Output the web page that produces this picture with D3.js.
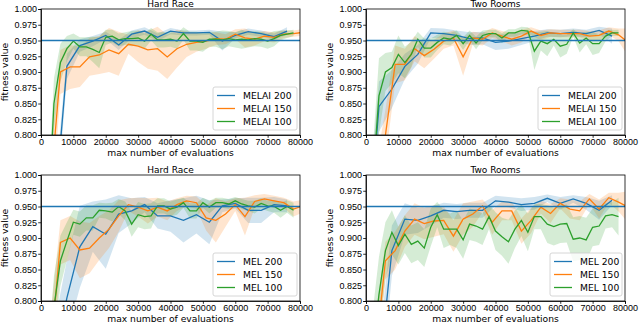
<!DOCTYPE html>
<html>
<head>
<meta charset="utf-8">
<script src="https://cdn.jsdelivr.net/npm/d3@7"></script>
<style>
  body { margin: 0; background: #fff; }
  svg { display: block; font-family: "DejaVu Sans", sans-serif; }
  .axis text { font-size: 9px; fill: #000; }
  .axis path, .axis line { stroke: #000; stroke-width: 0.8; }
</style>
</head>
<body>
<div id="container"></div>
<script>
// evaluation counts, one list per population size
const x200 = [0, 4000, 8000, 12000, 16000, 20000, 24000, 28000, 32000, 36000, 40000, 44000, 48000, 52000, 56000, 60000, 64000, 68000, 72000, 76000]
const x150 = [0, 3000, 6000, 9000, 12000, 15000, 18000, 21000, 24000, 27000, 30000, 33000, 36000, 39000, 42000, 45000, 48000, 51000, 54000, 57000, 60000, 63000, 66000, 69000, 72000, 75000, 78000, 81000]
const x100 = [0, 2000, 4000, 6000, 8000, 10000, 12000, 14000, 16000, 18000, 20000, 22000, 24000, 26000, 28000, 30000, 32000, 34000, 36000, 38000, 40000, 42000, 44000, 46000, 48000, 50000, 52000, 54000, 56000, 58000, 60000, 62000, 64000, 66000, 68000, 70000, 72000, 74000, 76000, 78000]

// MELAI - Hard Race
const melaiHard200 = [0.5, 0.667, 0.909, 0.942, 0.949, 0.958, 0.943, 0.960, 0.965, 0.955, 0.965, 0.962, 0.962, 0.963, 0.949, 0.958, 0.964, 0.961, 0.956, 0.965]
const melaiHard200Sd = [0.05, 0.03, 0.02, 0.01, 0.008, 0.006, 0.008, 0.006, 0.006, 0.006, 0.005, 0.004, 0.004, 0.004, 0.015, 0.005, 0.005, 0.005, 0.005, 0.006]
const melaiHard150 = [0.5, 0.72, 0.90, 0.908, 0.908, 0.924, 0.927, 0.935, 0.929, 0.944, 0.941, 0.935, 0.937, 0.924, 0.937, 0.944, 0.947, 0.949, 0.953, 0.952, 0.960, 0.954, 0.952, 0.957, 0.955, 0.960, 0.961, 0.963]
const melaiHard150Sd = [0.05, 0.06, 0.035, 0.035, 0.032, 0.03, 0.03, 0.035, 0.035, 0.015, 0.025, 0.03, 0.035, 0.035, 0.03, 0.02, 0.015, 0.012, 0.01, 0.008, 0.008, 0.015, 0.01, 0.008, 0.008, 0.006, 0.005, 0.005]
const melaiHard100 = [0.5, 0.65, 0.85, 0.915, 0.937, 0.949, 0.94, 0.94, 0.936, 0.931, 0.955, 0.957, 0.951, 0.953, 0.953, 0.954, 0.949, 0.96, 0.951, 0.951, 0.952, 0.949, 0.961, 0.949, 0.949, 0.947, 0.952, 0.952, 0.951, 0.953, 0.951, 0.952, 0.951, 0.953, 0.952, 0.949, 0.953, 0.958, 0.96, 0.962]
const melaiHard100Sd = [0.05, 0.04, 0.04, 0.03, 0.02, 0.012, 0.015, 0.015, 0.02, 0.025, 0.012, 0.01, 0.01, 0.01, 0.012, 0.012, 0.012, 0.01, 0.012, 0.012, 0.012, 0.012, 0.01, 0.015, 0.015, 0.015, 0.012, 0.012, 0.015, 0.012, 0.012, 0.015, 0.012, 0.012, 0.012, 0.012, 0.012, 0.008, 0.006, 0.005]

// MELAI - Two Rooms
const melaiRooms200 = [0.59, 0.845, 0.873, 0.909, 0.928, 0.962, 0.961, 0.958, 0.953, 0.954, 0.947, 0.949, 0.953, 0.957, 0.962, 0.961, 0.963, 0.961, 0.966, 0.957]
const melaiRooms200Sd = [0.05, 0.04, 0.03, 0.02, 0.015, 0.008, 0.008, 0.008, 0.01, 0.01, 0.012, 0.012, 0.01, 0.008, 0.006, 0.006, 0.006, 0.006, 0.006, 0.012]
const melaiRooms150 = [0.5, 0.7, 0.80, 0.912, 0.912, 0.937, 0.926, 0.936, 0.949, 0.954, 0.924, 0.954, 0.952, 0.962, 0.957, 0.952, 0.957, 0.965, 0.958, 0.962, 0.961, 0.961, 0.961, 0.957, 0.958, 0.965, 0.959, 0.947]
const melaiRooms150Sd = [0.05, 0.05, 0.04, 0.03, 0.025, 0.02, 0.02, 0.015, 0.012, 0.012, 0.03, 0.01, 0.01, 0.008, 0.008, 0.01, 0.01, 0.006, 0.008, 0.006, 0.006, 0.006, 0.006, 0.008, 0.008, 0.006, 0.01, 0.022]
const melaiRooms100 = [0.55, 0.72, 0.862, 0.90, 0.907, 0.928, 0.915, 0.928, 0.952, 0.938, 0.938, 0.947, 0.954, 0.952, 0.958, 0.945, 0.958, 0.946, 0.958, 0.961, 0.961, 0.954, 0.962, 0.962, 0.966, 0.965, 0.933, 0.949, 0.945, 0.952, 0.941, 0.944, 0.962, 0.946, 0.954, 0.945, 0.945, 0.957, 0.962, 0.962]
const melaiRooms100Sd = [0.05, 0.05, 0.06, 0.03, 0.025, 0.03, 0.025, 0.02, 0.012, 0.015, 0.015, 0.012, 0.01, 0.01, 0.008, 0.01, 0.008, 0.01, 0.008, 0.006, 0.006, 0.008, 0.006, 0.006, 0.006, 0.006, 0.03, 0.015, 0.02, 0.01, 0.018, 0.015, 0.006, 0.015, 0.01, 0.018, 0.015, 0.008, 0.005, 0.005]

// MEL - Hard Race
const melHard200 = [0.5, 0.7, 0.805, 0.886, 0.918, 0.906, 0.938, 0.943, 0.953, 0.935, 0.935, 0.928, 0.937, 0.925, 0.951, 0.955, 0.944, 0.944, 0.953, 0.951]
const melHard200Sd = [0.05, 0.06, 0.06, 0.065, 0.04, 0.055, 0.03, 0.02, 0.012, 0.02, 0.025, 0.035, 0.03, 0.035, 0.01, 0.008, 0.02, 0.02, 0.012, 0.01]
const melHard150 = [0.5, 0.72, 0.893, 0.90, 0.881, 0.884, 0.90, 0.914, 0.935, 0.953, 0.949, 0.943, 0.949, 0.943, 0.953, 0.959, 0.956, 0.932, 0.928, 0.938, 0.953, 0.934, 0.958, 0.962, 0.959, 0.956, 0.946, 0.951]
const melHard150Sd = [0.05, 0.06, 0.035, 0.035, 0.045, 0.04, 0.035, 0.03, 0.025, 0.01, 0.015, 0.02, 0.015, 0.015, 0.01, 0.008, 0.01, 0.02, 0.035, 0.02, 0.01, 0.03, 0.01, 0.008, 0.008, 0.008, 0.012, 0.01]
const melHard100 = [0.5, 0.65, 0.79, 0.864, 0.895, 0.925, 0.922, 0.932, 0.932, 0.944, 0.943, 0.941, 0.95, 0.943, 0.922, 0.937, 0.934, 0.935, 0.951, 0.951, 0.946, 0.949, 0.956, 0.943, 0.943, 0.956, 0.949, 0.956, 0.956, 0.954, 0.959, 0.954, 0.951, 0.949, 0.955, 0.951, 0.95, 0.944, 0.95, 0.944]
const melHard100Sd = [0.05, 0.06, 0.05, 0.04, 0.03, 0.02, 0.02, 0.02, 0.02, 0.012, 0.012, 0.015, 0.012, 0.015, 0.02, 0.02, 0.02, 0.02, 0.012, 0.012, 0.012, 0.012, 0.008, 0.012, 0.012, 0.008, 0.01, 0.008, 0.008, 0.008, 0.006, 0.008, 0.008, 0.01, 0.008, 0.008, 0.01, 0.012, 0.01, 0.012]

// MEL - Two Rooms
const melRooms200 = [0.5, 0.68, 0.88, 0.930, 0.928, 0.935, 0.944, 0.942, 0.944, 0.944, 0.959, 0.957, 0.953, 0.955, 0.963, 0.955, 0.962, 0.955, 0.944, 0.96]
const melRooms200Sd = [0.05, 0.05, 0.04, 0.025, 0.02, 0.015, 0.012, 0.012, 0.012, 0.012, 0.008, 0.008, 0.01, 0.01, 0.006, 0.01, 0.006, 0.01, 0.015, 0.008]
const melRooms150 = [0.5, 0.72, 0.864, 0.88, 0.911, 0.930, 0.923, 0.927, 0.928, 0.903, 0.930, 0.938, 0.951, 0.925, 0.943, 0.943, 0.911, 0.928, 0.949, 0.939, 0.955, 0.946, 0.943, 0.962, 0.946, 0.964, 0.957, 0.949]
const melRooms150Sd = [0.05, 0.05, 0.03, 0.03, 0.025, 0.025, 0.025, 0.025, 0.022, 0.025, 0.025, 0.02, 0.01, 0.02, 0.015, 0.015, 0.02, 0.02, 0.01, 0.015, 0.008, 0.015, 0.015, 0.008, 0.015, 0.008, 0.015, 0.025]
const melRooms100 = [0.5, 0.72, 0.81, 0.88, 0.909, 0.888, 0.906, 0.89, 0.895, 0.884, 0.917, 0.937, 0.914, 0.914, 0.914, 0.897, 0.922, 0.919, 0.914, 0.934, 0.911, 0.902, 0.894, 0.914, 0.928, 0.909, 0.934, 0.934, 0.922, 0.918, 0.922, 0.923, 0.898, 0.90, 0.897, 0.917, 0.919, 0.935, 0.937, 0.934]
const melRooms100Sd = [0.05, 0.06, 0.06, 0.045, 0.035, 0.03, 0.03, 0.03, 0.03, 0.03, 0.03, 0.02, 0.03, 0.025, 0.03, 0.03, 0.025, 0.025, 0.025, 0.02, 0.03, 0.03, 0.035, 0.03, 0.025, 0.03, 0.02, 0.02, 0.03, 0.03, 0.03, 0.03, 0.035, 0.035, 0.035, 0.03, 0.03, 0.02, 0.02, 0.03]

const xTicks = [0, 10000, 20000, 30000, 40000, 50000, 60000, 70000, 80000]
const yTicks = [0.8, 0.825, 0.85, 0.875, 0.9, 0.925, 0.95, 0.975, 1.0]
const target = 0.95
const colors = ['#1f77b4', '#ff7f0e', '#2ca02c']

const panels = [
    { title: 'Hard Race', left: 41, top: 9, algo: 'MELAI', lx: 213,
      series: [[x200, melaiHard200, melaiHard200Sd, 200], [x150, melaiHard150, melaiHard150Sd, 150], [x100, melaiHard100, melaiHard100Sd, 100]] },
    { title: 'Two Rooms', left: 366, top: 9, algo: 'MELAI', lx: 538,
      series: [[x200, melaiRooms200, melaiRooms200Sd, 200], [x150, melaiRooms150, melaiRooms150Sd, 150], [x100, melaiRooms100, melaiRooms100Sd, 100]] },
    { title: 'Hard Race', left: 41, top: 175, algo: 'MEL', lx: 213,
      series: [[x200, melHard200, melHard200Sd, 200], [x150, melHard150, melHard150Sd, 150], [x100, melHard100, melHard100Sd, 100]] },
    { title: 'Two Rooms', left: 366, top: 175, algo: 'MEL', lx: 550,
      series: [[x200, melRooms200, melRooms200Sd, 200], [x150, melRooms150, melRooms150Sd, 150], [x100, melRooms100, melRooms100Sd, 100]] }
]

const W = 640, H = 322
const pw = 259, ph = 126

const svg = d3.select('#container').append('svg')
    .attr('width', W).attr('height', H)

panels.forEach((p, i) => {
    const xScale = d3.scaleLinear().domain([0, 80000]).range([0, pw])
    const yScale = d3.scaleLinear().domain([0.8, 1.0]).range([ph, 0])

    const g = svg.append('g').attr('transform', `translate(${p.left},${p.top})`)

    g.append('clipPath').attr('id', 'clip' + i)
        .append('rect').attr('width', pw).attr('height', ph)

    const plot = g.append('g').attr('clip-path', `url(#clip${i})`)

    // std bands first, lines on top
    p.series.forEach((s, k) => {
        const [xs, ys, sd] = s
        const pts = xs.map((x, j) => ({ x: x, y: ys[j], s: sd[j] }))

        const area = d3.area()
            .x(d => xScale(d.x))
            .y0(d => yScale(d.y - d.s))
            .y1(d => yScale(d.y + d.s))
        plot.append('path').datum(pts)
            .attr('d', area)
            .attr('fill', colors[k]).attr('fill-opacity', 0.2)
    })

    p.series.forEach((s, k) => {
        const [xs, ys] = s
        const pts = xs.map((x, j) => ({ x: x, y: ys[j] }))
        const line = d3.line().x(d => xScale(d.x)).y(d => yScale(d.y))
        plot.append('path').datum(pts)
            .attr('d', line)
            .attr('fill', 'none')
            .attr('stroke', colors[k]).attr('stroke-width', 1.3)
    })

    // target line
    plot.append('line')
        .attr('x1', 0).attr('x2', pw)
        .attr('y1', yScale(target)).attr('y2', yScale(target))
        .attr('stroke', colors[0]).attr('stroke-width', 1.3)

    g.append('g').attr('class', 'axis')
        .attr('transform', `translate(0,${ph})`)
        .call(d3.axisBottom(xScale).tickValues(xTicks).tickSize(2.8).tickPadding(1).tickFormat(d3.format('d')))

    g.append('g').attr('class', 'axis')
        .call(d3.axisLeft(yScale).tickValues(yTicks).tickSize(2.8).tickPadding(1.2).tickFormat(d3.format('.3f')))

    // frame
    g.append('rect').attr('width', pw).attr('height', ph)
        .attr('fill', 'none').attr('stroke', '#000').attr('stroke-width', 0.8)

    g.append('text')
        .attr('x', pw / 2).attr('y', -2.5)
        .attr('text-anchor', 'middle')
        .style('font-size', '9px')
        .text(p.title)

    g.append('text')
        .attr('x', pw / 2).attr('y', ph + 20.5)
        .attr('text-anchor', 'middle')
        .style('font-size', '9.2px')
        .text('max number of evaluations')

    g.append('text')
        .attr('transform', `translate(${-33},${ph / 2}) rotate(-90)`)
        .attr('text-anchor', 'middle')
        .style('font-size', '9.2px')
        .text('fitness value')

    // legend
    const lw = p.left + pw - 3 - p.lx
    const leg = g.append('g').attr('transform', `translate(${p.lx - p.left},${ph - 48})`)
    leg.append('rect')
        .attr('width', lw).attr('height', 43)
        .attr('rx', 2)
        .attr('fill', '#fff').attr('fill-opacity', 0.8)
        .attr('stroke', '#ccc').attr('stroke-width', 0.8)
    p.series.forEach((s, k) => {
        const yy = 8.5 + k * 13
        leg.append('line')
            .attr('x1', 4).attr('x2', 22)
            .attr('y1', yy).attr('y2', yy)
            .attr('stroke', colors[k]).attr('stroke-width', 1.3)
        leg.append('text')
            .attr('x', 30).attr('y', yy + 3.3)
            .style('font-size', '9.2px')
            .text(`${p.algo} ${s[3]}`)
    })
})
</script>
</body>
</html>
